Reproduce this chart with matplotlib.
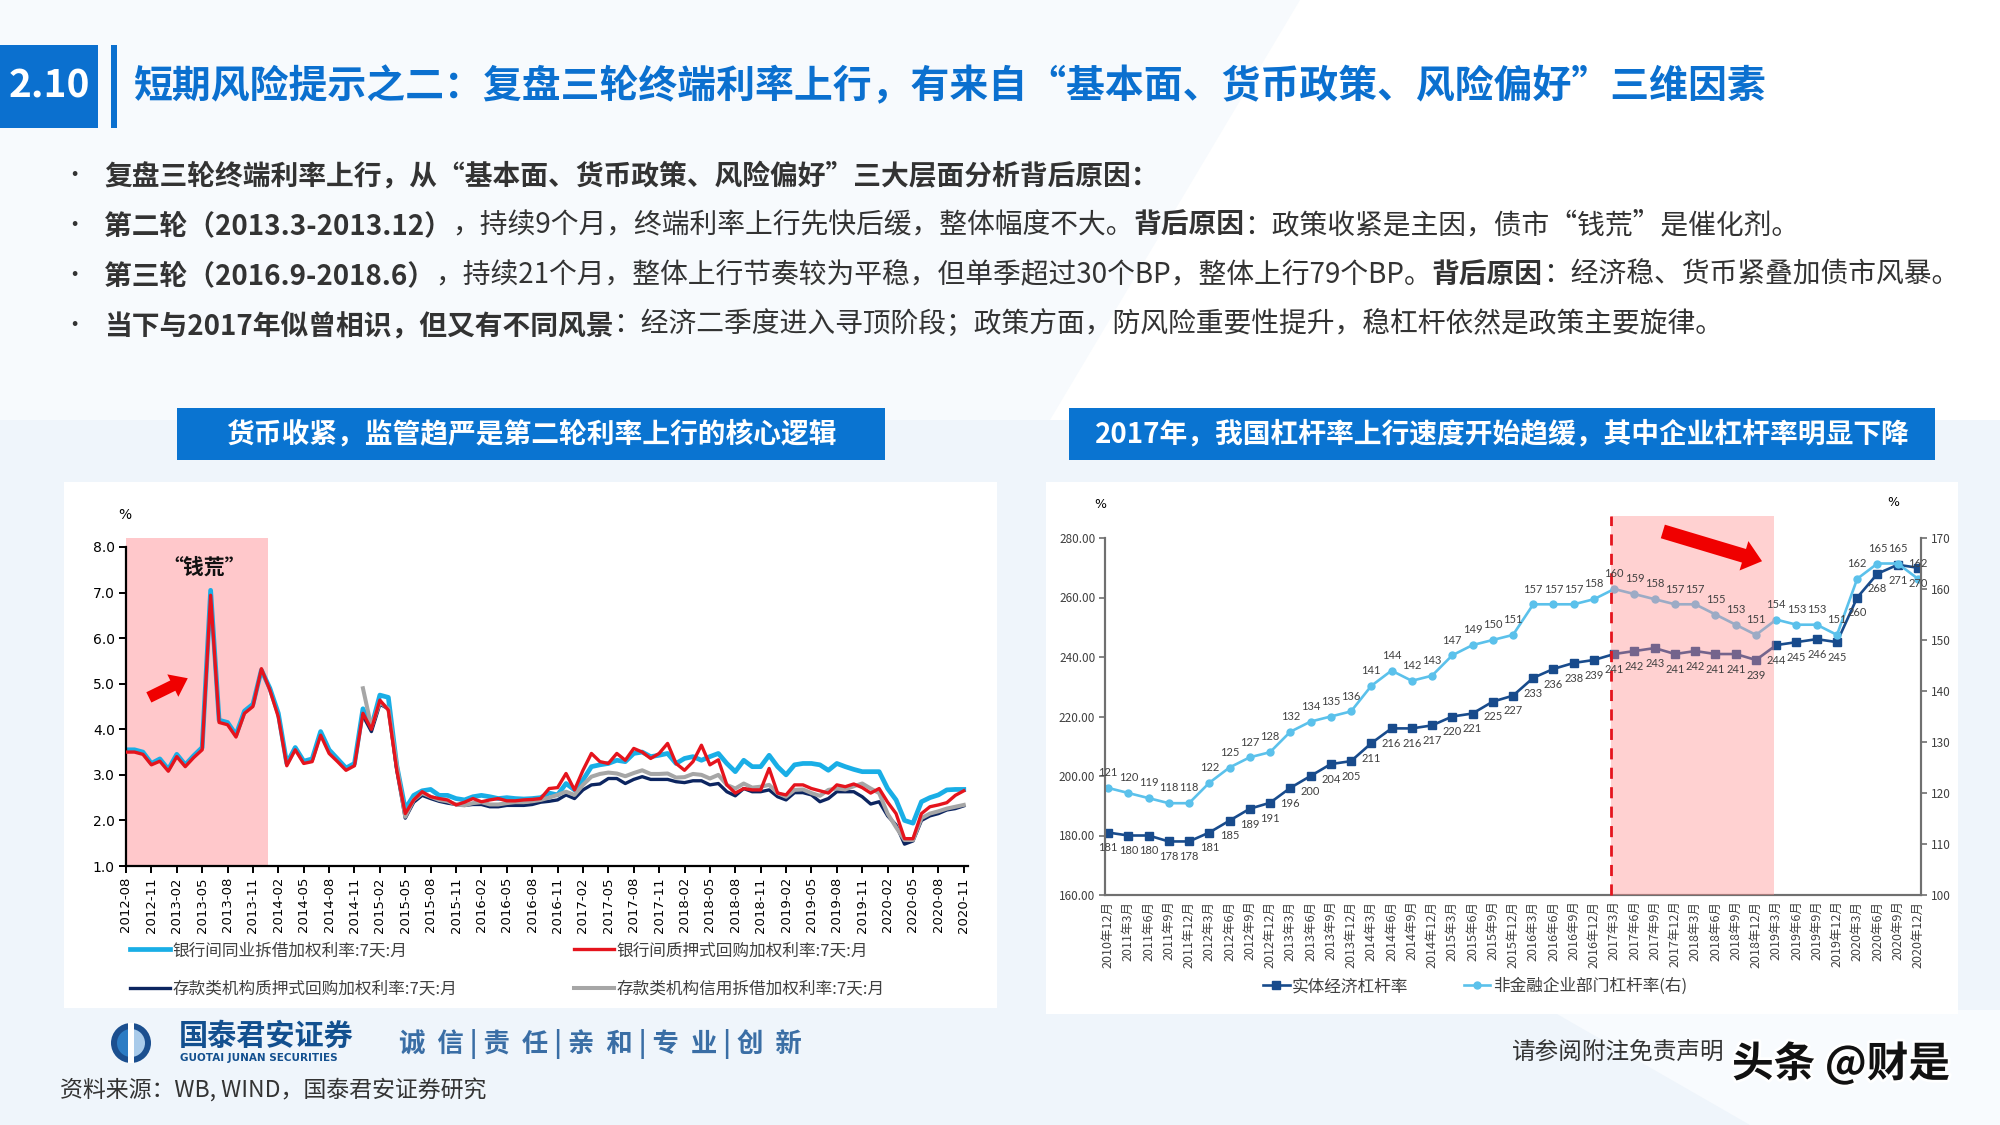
import numpy as np
import pandas as pd
import matplotlib
matplotlib.use("Agg")
import matplotlib.pyplot as plt
from matplotlib.patches import Rectangle, Polygon, Circle, Wedge
import matplotlib.patheffects as pe

plt.rcParams['font.family'] = ['Noto Sans CJK SC', 'DejaVu Sans']
plt.rcParams['axes.unicode_minus'] = False

W, H = 2000, 1125

# 左图：月度利率 2012-08 ~ 2020-11
months = pd.date_range('2012-08-01', '2020-11-01', freq='MS')
ibo7 = [3.55, 3.55, 3.50, 3.25, 3.35, 3.12, 3.45, 3.22, 3.42, 3.60,
        7.05, 4.20, 4.15, 3.88, 4.40, 4.55, 5.30, 4.90, 4.35, 3.25,
        3.60, 3.30, 3.35, 3.95, 3.55, 3.35, 3.15, 3.25, 4.45, 4.05,
        4.75, 4.70, 3.20, 2.25, 2.55, 2.65, 2.68, 2.55, 2.55, 2.48,
        2.45, 2.52, 2.55, 2.52, 2.48, 2.50, 2.48, 2.47, 2.48, 2.50,
        2.60, 2.56, 2.81, 2.67, 2.89, 3.18, 3.22, 3.25, 3.32, 3.29,
        3.47, 3.50, 3.40, 3.43, 3.47, 3.25, 3.36, 3.40, 3.32, 3.40,
        3.47, 3.25, 3.07, 3.32, 3.18, 3.18, 3.43, 3.18, 3.00, 3.22,
        3.25, 3.25, 3.22, 3.10, 3.25, 3.18, 3.12, 3.07, 3.07, 3.07,
        2.70, 2.45, 2.00, 1.94, 2.41, 2.50, 2.56, 2.67, 2.68, 2.68]
r007 = [3.50, 3.50, 3.45, 3.22, 3.30, 3.08, 3.40, 3.18, 3.38, 3.55,
        6.94, 4.15, 4.10, 3.83, 4.35, 4.50, 5.33, 4.86, 4.27, 3.20,
        3.55, 3.25, 3.29, 3.87, 3.47, 3.29, 3.10, 3.20, 4.35, 4.00,
        4.64, 4.42, 3.10, 2.15, 2.45, 2.63, 2.52, 2.48, 2.45, 2.34,
        2.40, 2.48, 2.41, 2.45, 2.48, 2.43, 2.43, 2.45, 2.46, 2.48,
        2.70, 2.72, 3.03, 2.67, 3.10, 3.47, 3.29, 3.25, 3.47, 3.32,
        3.58, 3.50, 3.36, 3.47, 3.69, 3.25, 3.10, 3.29, 3.65, 3.22,
        3.33, 2.78, 2.60, 2.70, 2.67, 2.67, 3.14, 2.60, 2.56, 2.78,
        2.78, 2.70, 2.65, 2.60, 2.78, 2.74, 2.80, 2.72, 2.60, 2.70,
        2.40, 2.15, 1.60, 1.60, 2.15, 2.30, 2.34, 2.39, 2.55, 2.65]
# 存款类机构数据从 2014-12 开始
dep_start = 28
dr007 = [4.30, 3.95, 4.55, 4.45, 3.10, 2.05, 2.40, 2.55, 2.48, 2.42,
         2.38, 2.35, 2.33, 2.35, 2.35, 2.30, 2.30, 2.33, 2.33, 2.33,
         2.35, 2.40, 2.42, 2.45, 2.56, 2.48, 2.67, 2.78, 2.80, 2.92,
         2.92, 2.81, 2.90, 2.96, 2.90, 2.90, 2.90, 2.85, 2.83, 2.87,
         2.87, 2.78, 2.81, 2.63, 2.54, 2.70, 2.63, 2.63, 2.67, 2.52,
         2.45, 2.61, 2.61, 2.56, 2.41, 2.48, 2.63, 2.63, 2.63, 2.52,
         2.36, 2.41, 2.10, 1.90, 1.48, 1.55, 2.00, 2.10, 2.15, 2.23,
         2.26, 2.32]
dibo7 = [4.90, 4.05, 4.60, 4.45, 3.20, 2.08, 2.45, 2.60, 2.52, 2.45,
         2.42, 2.35, 2.33, 2.38, 2.40, 2.35, 2.35, 2.38, 2.40, 2.40,
         2.42, 2.45, 2.50, 2.56, 2.63, 2.56, 2.78, 2.96, 3.02, 3.05,
         3.03, 2.97, 3.04, 3.10, 3.02, 3.02, 3.03, 2.94, 2.95, 3.02,
         3.00, 2.92, 3.00, 2.78, 2.70, 2.81, 2.72, 2.74, 2.78, 2.60,
         2.52, 2.67, 2.68, 2.60, 2.54, 2.67, 2.70, 2.68, 2.75, 2.81,
         2.70, 2.60, 2.15, 1.85, 1.57, 1.57, 2.05, 2.15, 2.20, 2.26,
         2.30, 2.34]
left_names = ['银行间同业拆借加权利率:7天:月', '银行间质押式回购加权利率:7天:月',
              '存款类机构质押式回购加权利率:7天:月', '存款类机构信用拆借加权利率:7天:月']

# 右图：季度杠杆率
quarters = ['2010年12月'] + [f'{y}年{m}月' for y in range(2011, 2021) for m in (3, 6, 9, 12)]
real_lev = [181, 180, 180, 178, 178, 181, 185, 189, 191, 196, 200, 204, 205, 211,
            216, 216, 217, 220, 221, 225, 227, 233, 236, 238, 239, 241, 242, 243,
            241, 242, 241, 241, 239, 244, 245, 246, 245, 260, 268, 271, 270]
corp_lev = [121, 120, 119, 118, 118, 122, 125, 127, 128, 132, 134, 135, 136, 141,
            144, 142, 143, 147, 149, 150, 151, 157, 157, 157, 158, 160, 159, 158,
            157, 157, 155, 153, 151, 154, 153, 153, 151, 162, 165, 165, 162]
right_names = ['实体经济杠杆率', '非金融企业部门杠杆率(右)']

BLUE = '#0B70CF'
TXT = '#333333'

fig = plt.figure(figsize=(20, 11.25), dpi=100, facecolor='white')
bg = fig.add_axes([0, 0, 1, 1], zorder=0)
bg.set_xlim(0, W)
bg.set_ylim(H, 0)
bg.axis('off')

# 背景
bg.add_patch(Polygon([(0, 0), (1300, 0), (1050, 420), (0, 420)], color='#F7FAFD', lw=0))
bg.add_patch(Polygon([(0, 420), (W, 420), (W, H), (0, H)], color='#EFF5FB', lw=0))
bg.add_patch(Polygon([(1550, 1010), (W, 1010), (W, H), (1750, H)], color='#F8FBFE', lw=0))

# 标题
bg.add_patch(Rectangle((0, 45), 98, 83, color=BLUE, lw=0))
bg.add_patch(Rectangle((111, 45), 6, 83, color=BLUE, lw=0))
bg.text(49, 86, '2.10', color='white', fontsize=28, fontweight='bold', ha='center', va='center')
bg.text(134, 86, '短期风险提示之二：复盘三轮终端利率上行，有来自“基本面、货币政策、风险偏好”三维因素',
        color=BLUE, fontsize=28, fontweight='bold', ha='left', va='center')


def rich_line(x, y, parts, size=20):
    prev = bg.text(x, y, parts[0][0], fontsize=size, color=TXT,
                   fontweight='bold' if parts[0][1] else 'normal', ha='left', va='center')
    for s, b in parts[1:]:
        prev = bg.annotate(s, xy=(1, 0), xycoords=prev, fontsize=size, color=TXT,
                           fontweight='bold' if b else 'normal', ha='left', va='bottom')


bullets = [
    [('复盘三轮终端利率上行，从“基本面、货币政策、风险偏好”三大层面分析背后原因：', True)],
    [('第二轮（2013.3-2013.12）', True), ('，持续9个月，终端利率上行先快后缓，整体幅度不大。', False),
     ('背后原因', True), ('：政策收紧是主因，债市“钱荒”是催化剂。', False)],
    [('第三轮（2016.9-2018.6）', True), ('，持续21个月，整体上行节奏较为平稳，但单季超过30个BP，整体上行79个BP。', False),
     ('背后原因', True), ('：经济稳、货币紧叠加债市风暴。', False)],
    [('当下与2017年似曾相识，但又有不同风景', True),
     ('：经济二季度进入寻顶阶段；政策方面，防风险重要性提升，稳杠杆依然是政策主要旋律。', False)],
]
for i, parts in enumerate(bullets):
    yy = 176 + i * 50
    bg.text(74, yy, '•', fontsize=16, color=TXT, ha='center', va='center')
    rich_line(104, yy, parts)

# 小标题条
bg.add_patch(Rectangle((177, 408), 708, 52, color='#0A74D1', lw=0))
bg.text(531, 434, '货币收紧，监管趋严是第二轮利率上行的核心逻辑', color='white',
        fontsize=20, fontweight='bold', ha='center', va='center')
bg.add_patch(Rectangle((1069, 408), 866, 52, color='#0A74D1', lw=0))
bg.text(1502, 434, '2017年，我国杠杆率上行速度开始趋缓，其中企业杠杆率明显下降', color='white',
        fontsize=20, fontweight='bold', ha='center', va='center')

# 图表底板
bg.add_patch(Rectangle((64, 482), 933, 526, color='white', lw=0))
bg.add_patch(Rectangle((1046, 482), 912, 532, color='white', lw=0))

# ---------------- 左图 ----------------
axL = fig.add_axes([126 / W, 1 - 866 / H, (968 - 126) / W, (866 - 547) / H], zorder=1)
axL.set_facecolor('none')
x = np.arange(len(months))
xd = x[dep_start:]
axL.axvspan(0, 16.8, ymin=0, ymax=1.028, color='#FFC8CB', lw=0, zorder=0, clip_on=False)
l1, = axL.plot(x, ibo7, color='#19AEE6', lw=3.4, zorder=2)
l3, = axL.plot(xd, dr007, color='#0C2560', lw=2.4, zorder=3)
l4, = axL.plot(xd, dibo7, color='#A6A6A6', lw=2.9, zorder=4)
l2, = axL.plot(x, r007, color='#E5141D', lw=2.4, zorder=5)
axL.set_xlim(0, 99.5)
axL.set_ylim(1, 8)
axL.set_yticks(np.arange(1, 9))
axL.set_yticklabels([f'{v:.1f}' for v in range(1, 9)], fontsize=10, fontfamily='DejaVu Sans')
tk = list(range(0, len(months), 3))
axL.set_xticks(tk)
axL.set_xticklabels([months[i].strftime('%Y-%m') for i in tk], rotation=90,
                    fontsize=9.5, fontfamily='DejaVu Sans')
for s in ('top', 'right'):
    axL.spines[s].set_visible(False)
for s in ('left', 'bottom'):
    axL.spines[s].set_linewidth(1.6)
axL.tick_params(direction='out', length=5, width=1.4, pad=3)
axL.annotate('', xy=(7.3, 5.12), xytext=(2.7, 4.70),
             arrowprops=dict(arrowstyle='simple,head_length=0.8,head_width=1.2,tail_width=0.55',
                             color='#F00000', lw=0, shrinkA=0, shrinkB=0, mutation_scale=15))
axL.text(9.2, 7.55, '“钱荒”', fontsize=15, fontweight='bold', ha='center', va='center', color='#111111')
bg.text(125, 515, '%', fontsize=10, ha='center', va='center', fontfamily='DejaVu Sans')

fig.legend([l1, l3, l2, l4], [left_names[0], left_names[2], left_names[1], left_names[3]],
           ncol=2, loc='upper left', bbox_to_anchor=(130 / W, 1 - 942 / H),
           bbox_transform=fig.transFigure, frameon=False, fontsize=12,
           handlelength=2.4, handletextpad=0.15, columnspacing=7.0, labelspacing=1.3,
           borderpad=0, borderaxespad=0, labelcolor='#404040')

# ---------------- 右图 ----------------
axR = fig.add_axes([1105 / W, 1 - 895 / H, (1921 - 1105) / W, (895 - 538) / H], zorder=1)
axR.set_facecolor('none')
axR2 = axR.twinx()
q = np.arange(len(quarters))
r1, = axR.plot(q, real_lev, color='#184B8C', lw=1.9, marker='s', ms=5.5, zorder=2)
r2, = axR2.plot(q, corp_lev, color='#5BC1EB', lw=1.9, marker='o', ms=5, zorder=2)
axR.set_xlim(-0.15, 40.15)
axR.set_ylim(160, 280)
axR2.set_ylim(100, 170)
axR.set_yticks(range(160, 281, 20))
axR.set_yticklabels([f'{v:.2f}' for v in range(160, 281, 20)], fontsize=8.5, color='#404040')
axR2.set_yticks(range(100, 171, 10))
axR2.set_yticklabels([str(v) for v in range(100, 171, 10)], fontsize=8.5, color='#404040')
axR.set_xticks(q)
axR.set_xticklabels(quarters, rotation=90, fontsize=9, color='#404040')
for a in (axR, axR2):
    a.spines['top'].set_visible(False)
    for s in ('left', 'right', 'bottom'):
        a.spines[s].set_color('#707070')
        a.spines[s].set_linewidth(1.5)
    a.tick_params(direction='out', length=4, width=1.2, color='#707070', pad=3)
axR.tick_params(axis='x', length=0, pad=4)

# 2017-2018 阴影区间
axR2.axvspan(24.85, 32.9, ymin=0, ymax=1.062, color='#FF8C8C', alpha=0.4, lw=0, zorder=3, clip_on=False)
axR2.axvline(24.85, ymin=0, ymax=1.062, color='#E5141D', ls=(0, (4, 3)), lw=2, zorder=4, clip_on=False)
axR2.annotate('', xy=(32.3, 272.2), xytext=(27.4, 282.2), xycoords=axR.transData,
              textcoords=axR.transData, annotation_clip=False, zorder=6,
              arrowprops=dict(arrowstyle='simple,head_length=0.8,head_width=1.3,tail_width=0.6',
                              color='#F00000', lw=0, shrinkA=0, shrinkB=0, mutation_scale=17))
for i, v in enumerate(real_lev):
    axR2.annotate(str(v), xy=(i, v), xycoords=axR.transData, xytext=(0, -11), textcoords='offset points',
                  ha='center', va='center', fontsize=8, color='#404040', zorder=5,
                  fontfamily='Lato', annotation_clip=False)
for i, v in enumerate(corp_lev):
    axR2.annotate(str(v), xy=(i, v), xytext=(0, 11), textcoords='offset points',
                  ha='center', va='center', fontsize=8, color='#404040', zorder=5,
                  fontfamily='Lato', annotation_clip=False)
bg.text(1100, 505, '%', fontsize=9, ha='center', va='center', fontfamily='DejaVu Sans')
bg.text(1893, 503, '%', fontsize=9, ha='center', va='center', fontfamily='DejaVu Sans')

fig.legend([r1, r2], right_names, ncol=2, loc='upper left', numpoints=1,
           bbox_to_anchor=(1263 / W, 1 - 978 / H), bbox_transform=fig.transFigure,
           frameon=False, fontsize=12, handlelength=1.6, handletextpad=0.15,
           columnspacing=3.3, borderpad=0, borderaxespad=0, labelcolor='#404040')

# ---------------- 页脚 ----------------
bg.add_patch(Circle((131, 1043), 20, color='#1B4F8F', lw=0))
bg.add_patch(Wedge((131, 1043), 14, 90, 270, color='#2C7CC4', lw=0))
bg.add_patch(Wedge((131, 1043), 14, 270, 90, color='#A9CBEA', lw=0))
bg.add_patch(Rectangle((128, 1023), 6, 40, color='white', lw=0))
bg.text(179, 1036, '国泰君安证券', fontsize=21, fontweight='bold', color='#13508F', ha='left', va='center')
bg.text(180, 1058, 'GUOTAI JUNAN SECURITIES', fontsize=7.5, fontweight='bold', color='#13508F',
        ha='left', va='center', fontfamily='DejaVu Sans')
bg.text(399, 1044, '诚  信 | 责  任 | 亲  和 | 专  业 | 创  新', fontsize=19, fontweight='bold',
        color='#3A6EA5', ha='left', va='center')
bg.text(60, 1091, '资料来源：WB, WIND，国泰君安证券研究', fontsize=16.5, color=TXT, ha='left', va='center')
bg.text(1512, 1053, '请参阅附注免责声明', fontsize=17, color=TXT, ha='left', va='center')
bg.text(1732, 1064, '头条 @财是', fontsize=30, fontweight='bold', color='#111111', ha='left', va='center',
        path_effects=[pe.withStroke(linewidth=4, foreground='white')])

fig.savefig('out.png', dpi=100, facecolor=fig.get_facecolor())
